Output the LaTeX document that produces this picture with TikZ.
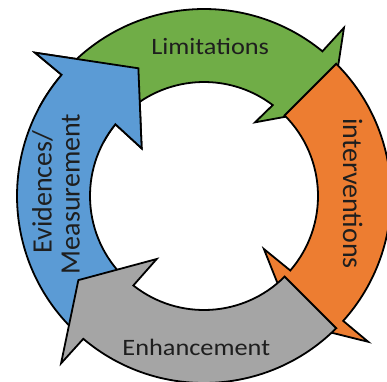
\documentclass[tikz,border=0pt]{standalone}
\usepackage{fontspec}
\setmainfont{Carlito}
\newfontfamily\wideface{Carlito}[FakeStretch=1.12]
\definecolor{blueA}{HTML}{5B9BD5}
\definecolor{greenA}{HTML}{70AD47}
\definecolor{orangeA}{HTML}{ED7D31}
\definecolor{grayA}{HTML}{A5A5A5}
\definecolor{ink}{HTML}{1E1E1E}
% One block of the ring: tail angle, outer/inner head-base angles,
% then outer barb, tip and inner barb as (angle, radius) pairs.
\newcommand\ringarrow[9]{(#1:187pt) arc[start angle=#1, end angle=#2, radius=187pt]
  -- (#4:#5pt) -- (#6:#7pt) -- (#8:#9pt) -- (#3:114pt)
  arc[start angle=#3, end angle=#1, radius=114pt] -- cycle}
\begin{document}
\begin{tikzpicture}[x=1pt,y=1pt,
  block/.style={draw=black, line width=1.8pt, line join=miter},
  hlabel/.style={inner sep=0pt, text=ink, anchor=base, font=\wideface\fontsize{23.5}{28}\selectfont},
  vlabel/.style={inner sep=0pt, text=ink, anchor=base, font=\fontsize{28}{34}\selectfont}]
\useasboundingbox (0,0) rectangle (387,-381);
\clip (0,0) rectangle (387,-381);
\coordinate (C) at (204,-196);
\begin{scope}[shift={(C)}]
  % clockwise cycle of four curved block arrows
  \path[block, fill=blueA]   \ringarrow{226}{139.6}{141}{139.7}{221.6}{117.2}{143.6}{142.6}{78.5};
  \path[block, fill=greenA]  \ringarrow{135}{50.7}{52.9}{50.25}{218.9}{34.5}{154.9}{55.3}{89.6};
  \path[block, fill=orangeA] \ringarrow{45}{-41.9}{-40.8}{-41.6}{219.6}{-54.9}{155.5}{-41.5}{80};
  \path[block, fill=grayA]   \ringarrow{-45}{-130.2}{-128.3}{-130.5}{220.1}{-146.2}{151.2}{-126.9}{78.8};
  % the blue head lies on top of the green tail
  \begin{scope}
    \clip (0,0) -- (152:320pt) -- (100:320pt) -- cycle;
    \path[block, fill=blueA] \ringarrow{226}{139.6}{141}{139.7}{221.6}{117.2}{143.6}{142.6}{78.5};
  \end{scope}
\end{scope}
\node[hlabel] (lim) at (210.2,-54.5) {Limitations};
\node[hlabel] (enh) at (196.3,-355) {Enhancement};
\node[vlabel, rotate=-90] (int) at (343,-193.5) {interventions};
\node[vlabel, rotate=90] (evi) at (51.5,-192) {Evidences/};
\node[vlabel, rotate=90] (mea) at (79.5,-194) {Measurement};
\end{tikzpicture}
\end{document}
